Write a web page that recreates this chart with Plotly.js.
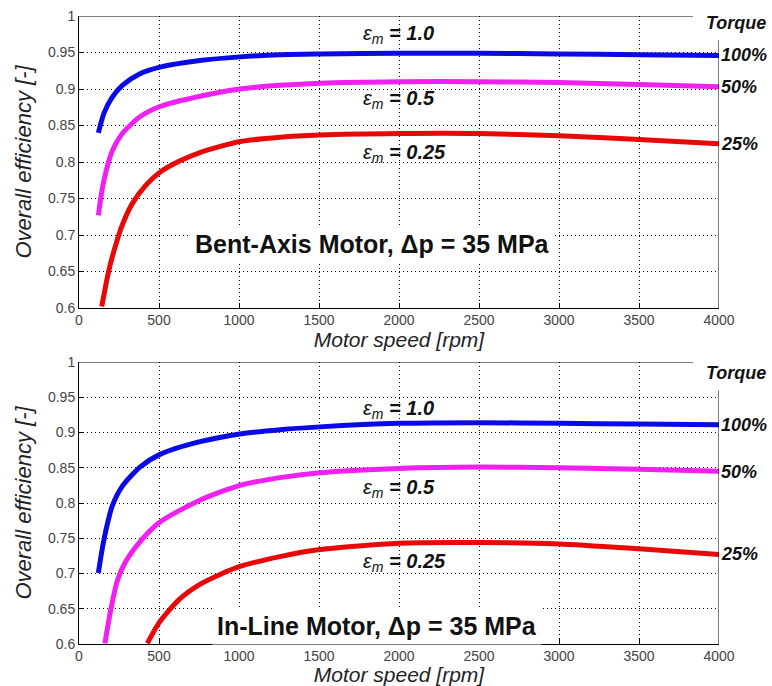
<!DOCTYPE html>
<html>
<head>
<meta charset="utf-8">
<script src="https://cdn.plot.ly/plotly-3.0.1.min.js"></script>
<style>html,body{margin:0;padding:0;background:#fff;}</style>
</head>
<body>
<div id="chart" style="width:772px;height:686px;"></div>
<script>
// ---- Data: Bent-Axis motor (top) ----
var bentRpm100 = [121, 156, 208, 271, 381, 506, 756, 1006, 1256, 1506, 2000, 2500, 3000, 3500, 4000];
var bentEff100 = [0.840, 0.867, 0.889, 0.905, 0.921, 0.930, 0.939, 0.944, 0.947, 0.948, 0.949, 0.949, 0.948, 0.947, 0.946];
var bentRpm50  = [121, 146, 177, 208, 271, 381, 506, 756, 1006, 1256, 1506, 2000, 2500, 3000, 3500, 4000];
var bentEff50  = [0.727, 0.764, 0.794, 0.815, 0.839, 0.862, 0.876, 0.890, 0.900, 0.905, 0.908, 0.910, 0.910, 0.909, 0.906, 0.903];
var bentRpm25  = [142, 187, 229, 271, 333, 417, 506, 625, 756, 1006, 1256, 1506, 2000, 2500, 3000, 3500, 4000];
var bentEff25  = [0.602, 0.652, 0.686, 0.714, 0.743, 0.768, 0.786, 0.801, 0.813, 0.828, 0.834, 0.837, 0.839, 0.839, 0.836, 0.831, 0.825];

// ---- Data: In-Line motor (bottom) ----
var inlRpm100 = [121, 146, 177, 208, 271, 381, 506, 756, 1006, 1256, 1506, 2000, 2500, 3000, 3500, 4000];
var inlEff100 = [0.701, 0.736, 0.770, 0.796, 0.824, 0.851, 0.869, 0.887, 0.898, 0.904, 0.908, 0.913, 0.914, 0.913, 0.912, 0.911];
var inlRpm50  = [162, 198, 240, 292, 381, 506, 756, 1006, 1256, 1506, 2000, 2500, 3000, 3500, 4000];
var inlEff50  = [0.601, 0.648, 0.690, 0.717, 0.745, 0.773, 0.804, 0.825, 0.836, 0.843, 0.849, 0.851, 0.850, 0.848, 0.845];
var inlRpm25  = [427, 500, 625, 750, 875, 1006, 1256, 1506, 2000, 2500, 3000, 3500, 4000];
var inlEff25  = [0.601, 0.630, 0.663, 0.684, 0.698, 0.710, 0.724, 0.734, 0.743, 0.744, 0.742, 0.735, 0.727];

var xTicks = [0, 500, 1000, 1500, 2000, 2500, 3000, 3500, 4000];
var yTicks = [0.6, 0.65, 0.7, 0.75, 0.8, 0.85, 0.9, 0.95, 1];
var epsLabels = ["1.0", "0.5", "0.25"];
var torqueLabels = ["100%", "50%", "25%"];

var cBlue = "#0a0ae6", cMag = "#f020f0", cRed = "#e80808";
var FONT = "Liberation Sans, Arial, sans-serif";

function tr(x, y, c, xa, ya) {
  return {x: x, y: y, type: "scatter", mode: "lines", line: {color: c, width: 5, shape: "spline", smoothing: 0.7},
          xaxis: xa, yaxis: ya, showlegend: false, hoverinfo: "skip"};
}
var data = [
  tr(bentRpm100, bentEff100, cBlue, "x", "y"),
  tr(bentRpm50, bentEff50, cMag, "x", "y"),
  tr(bentRpm25, bentEff25, cRed, "x", "y"),
  tr(inlRpm100, inlEff100, cBlue, "x2", "y2"),
  tr(inlRpm50, inlEff50, cMag, "x2", "y2"),
  tr(inlRpm25, inlEff25, cRed, "x2", "y2")
];

function xax(anchor) {
  return {anchor: anchor, range: [0, 4000], tickvals: xTicks, ticktext: xTicks.map(String),
    showgrid: true, gridcolor: "#000", griddash: "1px,3px", gridwidth: 1, zeroline: false,
    showline: true, linecolor: "#000", linewidth: 1, ticks: "inside", ticklen: 5, tickcolor: "#000",
    tickfont: {family: FONT, size: 14, color: "#444"}, automargin: false, ticklabelstandoff: -1,
    title: {text: "<i>Motor speed [rpm]</i>", font: {family: FONT, size: 21, color: "#222"}, standoff: 0}};
}
function yax(anchor, domain) {
  return {anchor: anchor, domain: domain, range: [0.6, 1], tickvals: yTicks, ticktext: yTicks.map(String),
    showgrid: true, gridcolor: "#000", griddash: "1px,3px", gridwidth: 1, zeroline: false,
    showline: true, linecolor: "#000", linewidth: 1, ticks: "inside", ticklen: 5, tickcolor: "#000",
    tickfont: {family: FONT, size: 14, color: "#444"}, automargin: false,
    title: {text: "<i>Overall efficiency [-]</i>", font: {family: FONT, size: 22, color: "#222"}, standoff: 10}};
}

var annotations = [];
function eps(xr, yr, x, y, v) {
  annotations.push({xref: xr, yref: yr, x: x, y: y, xanchor: "left", yanchor: "middle", showarrow: false,
    text: "<i>ε<sub>m</sub></i><b><i> = " + v + "</i></b>", font: {family: FONT, size: 20, color: "#111"}});
}
function pct(yr, y, t) {
  annotations.push({xref: "paper", yref: yr, x: 1.0, y: y, xanchor: "left", yanchor: "middle", showarrow: false,
    text: "<b><i>" + t + "</i></b>", font: {family: FONT, size: 18, color: "#111"}});
}
// top panel labels
eps("x", "y", 1760, 0.975, epsLabels[0]);
eps("x", "y", 1760, 0.885, epsLabels[1]);
eps("x", "y", 1760, 0.812, epsLabels[2]);
pct("y", 0.946, torqueLabels[0]);
pct("y", 0.903, torqueLabels[1]);
pct("y", 0.825, torqueLabels[2]);
annotations.push({xref: "paper", yref: "y", x: 0.978, y: 0.99, xanchor: "left", yanchor: "middle", showarrow: false,
  text: "<b><i>Torque</i></b>", font: {family: FONT, size: 18, color: "#111"}, bgcolor: "#fff", borderpad: 0});
annotations.push({xref: "x", yref: "y", x: 1835, y: 0.688, xanchor: "center", yanchor: "middle", showarrow: false,
  text: "<b>Bent-Axis Motor, Δp = 35 MPa</b>", font: {family: FONT, size: 25, color: "#111"}, bgcolor: "#fff", borderpad: 4});
// bottom panel labels
eps("x2", "y2", 1760, 0.932, epsLabels[0]);
eps("x2", "y2", 1760, 0.820, epsLabels[1]);
eps("x2", "y2", 1760, 0.715, epsLabels[2]);
pct("y2", 0.911, torqueLabels[0]);
pct("y2", 0.844, torqueLabels[1]);
pct("y2", 0.727, torqueLabels[2]);
annotations.push({xref: "paper", yref: "y2", x: 0.978, y: 0.984, xanchor: "left", yanchor: "middle", showarrow: false,
  text: "<b><i>Torque</i></b>", font: {family: FONT, size: 18, color: "#111"}, bgcolor: "#fff", borderpad: 0});
annotations.push({xref: "x2", yref: "y2", x: 1860, y: 0.626, xanchor: "center", yanchor: "middle", showarrow: false,
  text: "<b>In-Line Motor, Δp = 35 MPa</b>", font: {family: FONT, size: 25, color: "#111"}, bgcolor: "#fff", borderpad: 4});

var shapes = [
  {type: "line", xref: "x", yref: "y", x0: 0, x1: 3837, y0: 1, y1: 1, line: {color: "#000", width: 1}},
  {type: "line", xref: "x", yref: "y", x0: 4000, x1: 4000, y0: 0.6, y1: 0.967, line: {color: "#000", width: 1}},
  {type: "line", xref: "x2", yref: "y2", x0: 0, x1: 3837, y0: 1, y1: 1, line: {color: "#000", width: 1}},
  {type: "line", xref: "x2", yref: "y2", x0: 4000, x1: 4000, y0: 0.6, y1: 0.96, line: {color: "#000", width: 1}}
];

var layout = {
  width: 772, height: 686,
  margin: {l: 79, r: 53, t: 16, b: 42},
  paper_bgcolor: "#fff", plot_bgcolor: "#fff",
  font: {family: FONT},
  showlegend: false,
  xaxis: xax("y"),
  yaxis: yax("x", [0.535, 1.0]),
  xaxis2: xax("y2"),
  yaxis2: yax("x2", [0, 0.449]),
  annotations: annotations,
  shapes: shapes
};

Plotly.newPlot("chart", data, layout, {displayModeBar: false, staticPlot: true});
</script>
</body>
</html>
